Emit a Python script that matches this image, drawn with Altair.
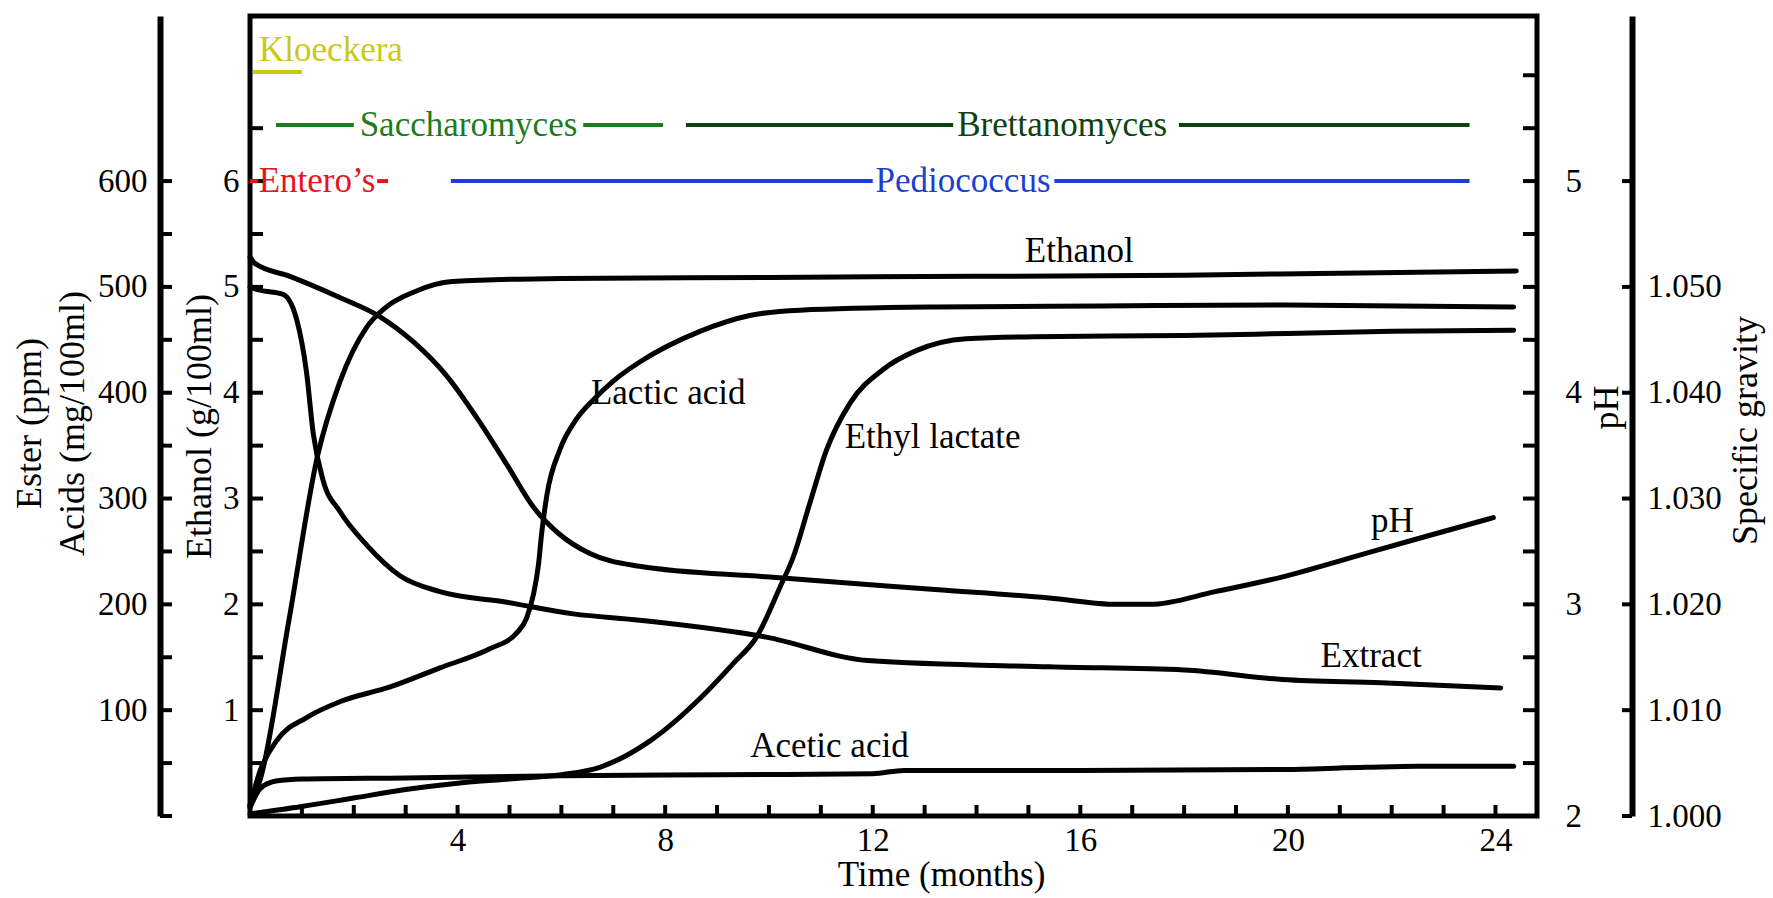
import altair as alt
import pandas as pd

FONT = "Liberation Serif"

# ---------------- measured series (time in months) ----------------
ethanol_t = [0, 0.2, 0.75, 1.3, 1.73, 2.25, 2.6, 3.15, 3.9, 6, 10, 14, 18, 21, 24.4]
ethanol_v = [0.1, 0.35, 1.85, 3.4, 4.1, 4.62, 4.8, 4.95, 5.05, 5.08, 5.09, 5.1, 5.11, 5.13, 5.15]  # g/100ml

lactic_t = [0, 0.19, 0.51, 1.09, 1.73, 2.7, 3.66, 4.62, 5.14, 5.33, 5.46, 5.56, 5.62, 5.72,
            5.97, 6.29, 6.61, 7.0, 7.51, 8.67, 9.63, 10.6, 13.2, 16.4, 20, 24.35]
lactic_v = [10, 42, 71, 93, 108, 122, 140, 158, 173, 187, 209, 238, 267, 303,
            346, 375, 393, 411, 429, 458, 473, 478, 481, 482, 483, 481]  # mg/100ml

ethyl_t = [0, 1, 2, 3, 4, 5, 6, 6.74, 7.71, 8.67, 9.31, 9.76, 10.21, 10.47, 10.79, 11.11,
           11.56, 12.2, 12.85, 13.8, 15.1, 18, 20, 22, 24.35]
ethyl_v = [2, 9, 17, 25, 31, 35, 39, 46, 71, 111, 144, 169, 216, 245, 296, 346,
           390, 422, 440, 451, 453, 454, 456, 458, 459]  # ppm

acetic_t = [0, 0.2, 0.5, 1, 3, 6, 9, 12, 12.6, 16, 20, 21.5, 22.5, 24.35]
acetic_v = [8, 26, 33, 35, 36, 38, 39, 40, 43, 43, 44, 46, 47, 47]  # mg/100ml

ph_t = [0, 0.1, 0.77, 1.73, 2.5, 3.15, 3.79, 4.43, 4.95, 5.46, 5.97, 6.55, 7.51, 9.95,
        13.2, 15.4, 16.7, 17.34, 18.6, 19.9, 21.2, 22.5, 23.96]
ph_v = [4.64, 4.61, 4.55, 4.45, 4.36, 4.24, 4.08, 3.86, 3.66, 3.46, 3.33, 3.24, 3.18, 3.13,
        3.07, 3.03, 3.0, 3.0, 3.06, 3.13, 3.22, 3.31, 3.41]

extract_t = [0, 0.1, 0.64, 0.9, 1.09, 1.22, 1.41, 1.73, 2.25, 2.89, 3.66, 4.95, 6.23, 7.51,
             9.95, 11.9, 15.4, 18, 19.9, 21.8, 24.1]
extract_v = [1.0500, 1.0498, 1.0493, 1.0469, 1.0419, 1.0361, 1.0317, 1.0288, 1.0256, 1.0227,
             1.0212, 1.0202, 1.0191, 1.0185, 1.0169, 1.0147, 1.0141, 1.0138, 1.0129, 1.0126, 1.0121]

# curve labels (placed in ethanol units)
curve_labels = ["Ethanol", "Lactic acid", "Ethyl lactate", "pH", "Extract", "Acetic acid"]
curve_label_t = [14.93, 6.57, 11.46, 21.6, 20.63, 9.64]
curve_label_y = [5.34, 4.0, 3.58, 2.79, 1.51, 0.66]

# microorganism activity periods (segments in months, row height in ethanol units)
orgs = ["Kloeckera", "Saccharomyces", "Brettanomyces", "Entero\u2019s", "Pediococcus"]
org_colors = ["#c9c916", "#1e7b1e", "#0e420e", "#e8141c", "#1d3fd1"]
seg_org = ["Kloeckera", "Saccharomyces", "Saccharomyces", "Brettanomyces", "Brettanomyces",
           "Entero\u2019s", "Entero\u2019s", "Pediococcus", "Pediococcus"]
seg_start = [0.06, 0.5, 6.42, 8.4, 17.9, 0.0, 2.45, 3.87, 15.5]
seg_end = [1.0, 2.0, 7.96, 13.55, 23.5, 0.15, 2.66, 12.0, 23.5]
seg_row = [7.03, 6.53, 6.53, 6.53, 6.53, 6.0, 6.0, 6.0, 6.0]
org_label_t = [1.56, 4.21, 15.65, 1.29, 13.74]
org_label_y = [7.24, 6.53, 6.53, 6.0, 6.0]

# axis ticks
time_labels = [4, 8, 12, 16, 20, 24]
time_ticks = list(range(1, 25))
ethanol_labels = [1, 2, 3, 4, 5, 6]
ethanol_ticks = [0.5 * i for i in range(1, 14)]
acid_labels = [100, 200, 300, 400, 500, 600]
acid_ticks = [50 * i for i in range(0, 13)]
ph_labels = [2, 3, 4, 5]
ph_ticks = [2 + 0.25 * i for i in range(1, 15)]
sg_labels = [1.000, 1.010, 1.020, 1.030, 1.040, 1.050]
sg_ticks = [1.0 + 0.01 * i for i in range(0, 7)]

# ---------------- layout ----------------
W, H = 1287, 800
X_DOM = [0, 24.8]
ETH_DOM = [0, 7.56]
ACID_DOM = [0, 756]
PH_DOM = [2, 5.78]
SG_DOM = [1.0, 1.0756]


def xscale():
    return alt.Scale(domain=X_DOM, nice=False, zero=False)


def yscale(dom):
    return alt.Scale(domain=dom, nice=False, zero=False)


def series(name, t, v):
    return pd.DataFrame({"series": name, "t": t, "v": v})


def line(df, dom, yaxis=None, xaxis=alt.Undefined):
    return alt.Chart(df).mark_line(
        color="black", strokeWidth=5, interpolate="monotone", strokeCap="round"
    ).encode(
        x=alt.X("t:Q", scale=xscale(), axis=xaxis),
        y=alt.Y("v:Q", scale=yscale(dom), axis=yaxis),
        detail="series:N",
    )


def ticks_y(vals, dom, x0, x1, width=4):
    return alt.Chart(pd.DataFrame({"v": vals})).mark_rule(
        color="black", strokeWidth=width
    ).encode(
        y=alt.Y("v:Q", scale=yscale(dom), axis=None),
        x=alt.value(x0),
        x2=alt.value(x1),
    )


x_axis = alt.Axis(
    values=time_labels, title="Time (months)", tickSize=0, domain=False,
    labelPadding=8, titleFontSize=35, titleX=691, titleY=58,
    titleBaseline="middle", titleAlign="center",
)
eth_axis = alt.Axis(
    orient="left", offset=0, values=ethanol_labels, tickSize=0, domain=False,
    labelPadding=11, title="Ethanol (g/100ml)", titleAngle=270,
    titleX=-51, titleY=410, titleBaseline="middle", titleAlign="center",
)
acid_axis = alt.Axis(
    orient="left", offset=90, values=acid_labels, tickSize=0, domain=True,
    domainWidth=6, domainColor="black", labelPadding=13,
    title=["Ester (ppm)", "Acids (mg/100ml)"], titleAngle=270, titleLineHeight=43,
    titleX=-131, titleY=407, titleBaseline="middle", titleAlign="center",
)
ph_axis = alt.Axis(
    orient="right", offset=0, values=ph_labels, tickSize=0, domain=False,
    labelPadding=28, title="pH", titleAngle=270,
    titleX=69, titleY=391, titleBaseline="middle", titleAlign="center",
)
sg_axis = alt.Axis(
    orient="right", offset=95, values=sg_labels, format=".3f", tickSize=0,
    domain=True, domainWidth=6, domainColor="black", labelPadding=15,
    title="Specific gravity", titleAngle=270,
    titleX=113, titleY=414, titleBaseline="middle", titleAlign="center",
)

# ---- curves ----
eth_line = line(series("Ethanol", ethanol_t, ethanol_v), ETH_DOM, eth_axis, x_axis)
acid_df = pd.concat([
    series("Lactic acid", lactic_t, lactic_v),
    series("Ethyl lactate", ethyl_t, ethyl_v),
    series("Acetic acid", acetic_t, acetic_v),
])
acid_lines = line(acid_df, ACID_DOM, acid_axis)
ph_line = line(series("pH", ph_t, ph_v), PH_DOM, ph_axis)
sg_line = line(series("Extract", extract_t, extract_v), SG_DOM, sg_axis)

# ---- inward / side tick marks ----
eth_ticks = ticks_y(ethanol_ticks, ETH_DOM, 0, 13)
acid_tick_marks = ticks_y(acid_ticks, ACID_DOM, -90, -78)
ph_tick_marks = ticks_y(ph_ticks, PH_DOM, W, W - 14)
sg_tick_marks = ticks_y(sg_ticks, SG_DOM, W + 95, W + 85)
time_tick_marks = alt.Chart(pd.DataFrame({"t": time_ticks})).mark_rule(
    color="black", strokeWidth=4
).encode(x=alt.X("t:Q", scale=xscale()), y=alt.value(H), y2=alt.value(H - 11))

# ---- curve names ----
label_df = pd.DataFrame({"label": curve_labels, "t": curve_label_t, "v": curve_label_y})
curve_text = alt.Chart(label_df).mark_text(
    font=FONT, fontSize=35, align="left", baseline="middle", color="black"
).encode(
    x=alt.X("t:Q", scale=xscale()),
    y=alt.Y("v:Q", scale=yscale(ETH_DOM), axis=None),
    text="label:N",
)

# ---- microorganism periods ----
org_color = alt.Color("org:N", scale=alt.Scale(domain=orgs, range=org_colors), legend=None)
seg_df = pd.DataFrame({"org": seg_org, "t0": seg_start, "t1": seg_end, "v": seg_row})
org_segments = alt.Chart(seg_df).mark_rule(strokeWidth=4).encode(
    x=alt.X("t0:Q", scale=xscale()),
    x2="t1:Q",
    y=alt.Y("v:Q", scale=yscale(ETH_DOM), axis=None),
    color=org_color,
)
org_df = pd.DataFrame({"org": orgs, "t": org_label_t, "v": org_label_y})
org_text = alt.Chart(org_df).mark_text(
    font=FONT, fontSize=35, align="center", baseline="middle"
).encode(
    x=alt.X("t:Q", scale=xscale()),
    y=alt.Y("v:Q", scale=yscale(ETH_DOM), axis=None),
    text="org:N",
    color=org_color,
)

chart = alt.layer(
    eth_line, acid_lines, ph_line, sg_line,
    eth_ticks, acid_tick_marks, ph_tick_marks, sg_tick_marks, time_tick_marks,
    curve_text, org_segments, org_text,
).resolve_scale(
    y="independent"
).properties(
    width=W,
    height=H,
    padding={"left": 250, "top": 16, "right": 236, "bottom": 82},
    autosize=alt.AutoSizeParams(type="none"),
    background="white",
).configure_view(
    stroke="black", strokeWidth=5
).configure_axis(
    grid=False,
    labelFont=FONT, labelFontSize=33, labelColor="black",
    titleFont=FONT, titleFontSize=36, titleFontWeight="normal", titleColor="black",
)

chart.save("out.html", embed_options={"renderer": "svg", "actions": False})
